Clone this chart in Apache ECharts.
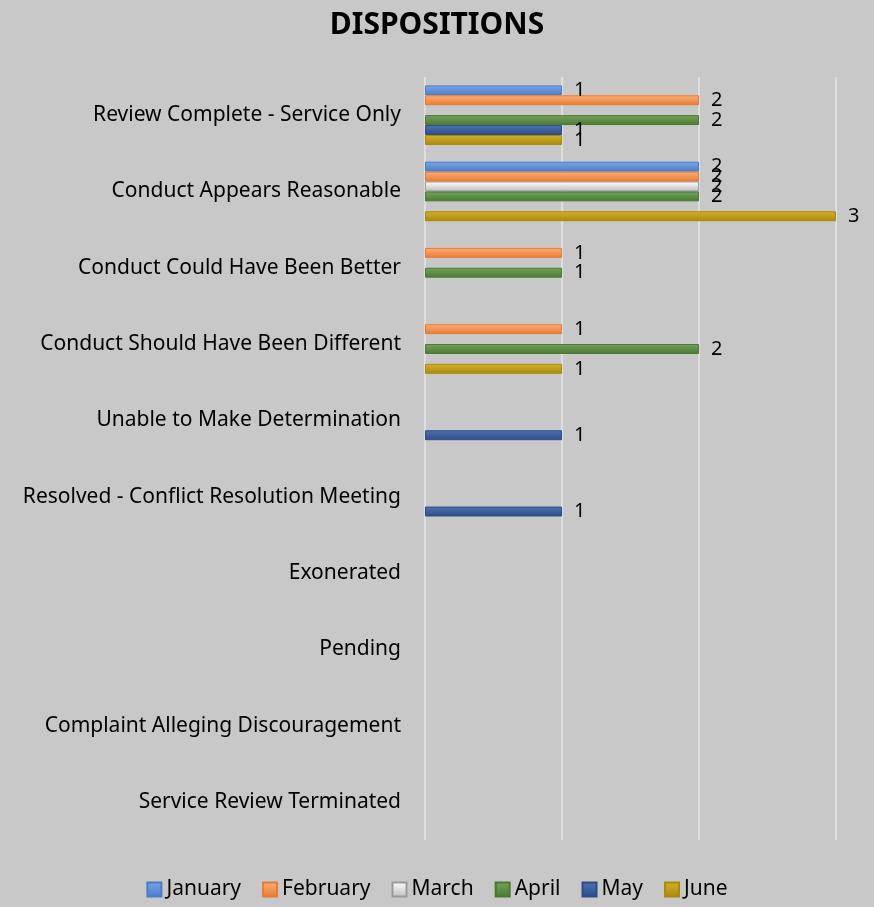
<!DOCTYPE html>
<html>
<head>
<meta charset="UTF-8" />
<title>Dispositions</title>
<script src="https://cdn.jsdelivr.net/npm/echarts@6/dist/echarts.min.js"></script>
<style>
html, body { margin: 0; padding: 0; background: #c8c8c8; }
</style>
</head>
<body>
<div id="chart" style="width: 874px; height: 907px;"></div>
<script>
// categories, top to bottom
var categories = [
  "Review Complete - Service Only",
  "Conduct Appears Reasonable",
  "Conduct Could Have Been Better",
  "Conduct Should Have Been Different",
  "Unable to Make Determination",
  "Resolved - Conflict Resolution Meeting",
  "Exonerated",
  "Pending",
  "Complaint Alleging Discouragement",
  "Service Review Terminated"
];

// monthly counts ("-" = no bar)
var january  = [1, 2, "-", "-", "-", "-", "-", "-", "-", "-"];
var february = [2, 2, 1, 1, "-", "-", "-", "-", "-", "-"];
var march    = ["-", 2, "-", "-", "-", "-", "-", "-", "-", "-"];
var april    = [2, 2, 1, 2, "-", "-", "-", "-", "-", "-"];
var may      = [1, "-", "-", "-", 1, 1, "-", "-", "-", "-"];
var june     = [1, 3, "-", 1, "-", "-", "-", "-", "-", "-"];

var months = ["January", "February", "March", "April", "May", "June"];
var colors = [
  ["#7aa7e8", "#4a7cc8"],
  ["#fbb07a", "#e87a32"],
  ["#ffffff", "#bdbdbd"],
  ["#76a35a", "#4a7a32"],
  ["#4f72b0", "#2c4d8a"],
  ["#d6b02a", "#a88a0c"]
];
var values = [january, february, march, april, may, june];

var chart = echarts.init(document.getElementById("chart"));

var series = months.map(function (m, i) {
  return {
    name: m,
    type: "bar",
    data: values[i],
    barGap: "0%",
    barCategoryGap: "22%",
    itemStyle: {
      color: new echarts.graphic.LinearGradient(0, 0, 0, 1, [
        { offset: 0, color: colors[i][0] },
        { offset: 1, color: colors[i][1] }
      ]),
      borderColor: i === 2 ? "#9a9a9a" : colors[i][1],
      borderWidth: 1
    },
    label: {
      show: true,
      position: "right",
      distance: 12,
      color: "#000",
      fontSize: 20,
      fontFamily: "Noto Sans"
    }
  };
});

chart.setOption({
  backgroundColor: "#c8c8c8",
  color: colors.map(function (c) { return c[1]; }),
  title: {
    text: "DISPOSITIONS",
    left: "center",
    top: 5,
    textStyle: { fontSize: 30, fontWeight: "bold", color: "#000", fontFamily: "Noto Sans" }
  },
  legend: {
    bottom: 2,
    left: "center",
    itemWidth: 14,
    itemHeight: 14,
    itemGap: 21,
    icon: "rect",
    textStyle: { fontSize: 21, color: "#000", fontFamily: "Noto Sans" },
    data: months
  },
  grid: { left: 425, right: 38, top: 77, bottom: 67, containLabel: false },
  xAxis: {
    type: "value",
    min: 0,
    max: 3,
    interval: 1,
    axisLabel: { show: false },
    axisLine: { show: false },
    axisTick: { show: false },
    splitLine: { lineStyle: { color: "#dedede", width: 2 } }
  },
  yAxis: {
    type: "category",
    inverse: true,
    data: categories,
    axisLine: { show: false },
    axisTick: { show: false },
    axisLabel: { color: "#000", fontSize: 21, margin: 24, fontFamily: "Noto Sans" }
  },
  series: series
});
</script>
</body>
</html>
